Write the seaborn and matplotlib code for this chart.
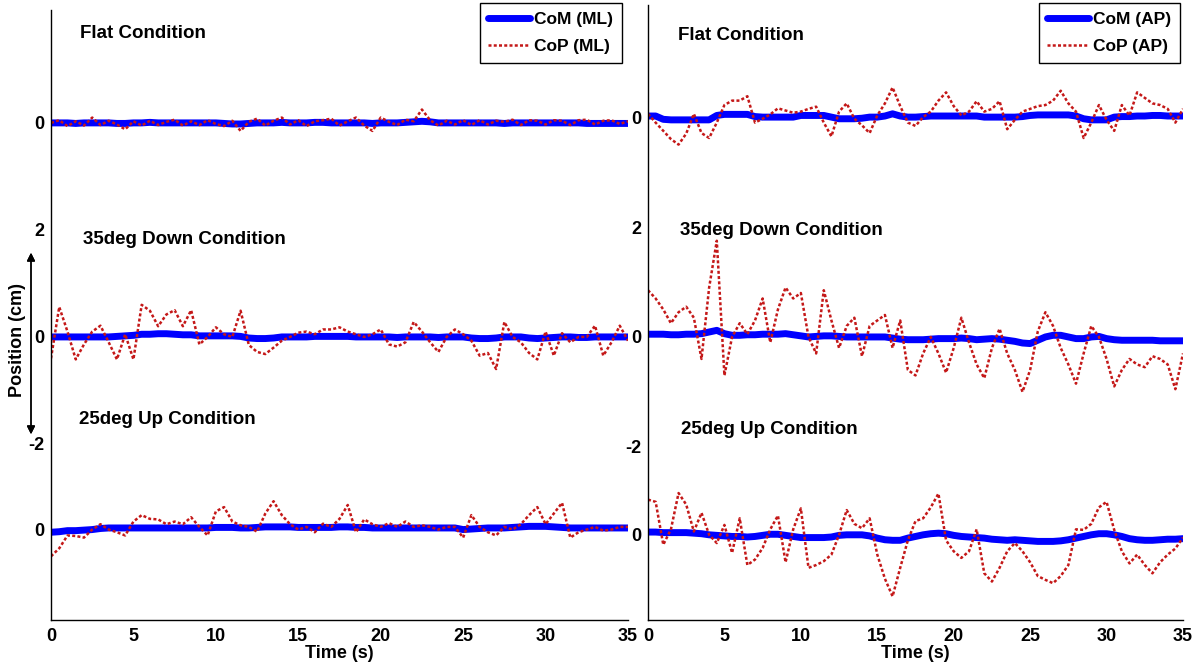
# CoM / CoP traces for three walking conditions, ML (left) and AP (right)

import numpy as np
import seaborn as sns
import matplotlib.pyplot as plt
from matplotlib.lines import Line2D

# time base, one sample every 0.5 s
time = np.arange(0, 35.5, 0.5)

# ---- ML direction (left panel) ----
com_ml_flat = [0.0, 0.0, 0.0, -0.01, 0.0, 0.0, 0.0, 0.0, -0.01, -0.01,
               0.0, 0.0, 0.01, 0.0, 0.0, 0.0, 0.0, 0.0, 0.0, 0.0,
               0.0, -0.01, -0.02, -0.02, -0.01, 0.0, 0.0, 0.0, 0.01, 0.0,
               0.0, 0.0, 0.01, 0.01, 0.0, 0.0, 0.0, 0.0, 0.0, -0.01,
               0.0, 0.0, 0.0, 0.01, 0.02, 0.03, 0.02, 0.0, 0.0, 0.0,
               0.0, 0.0, 0.0, 0.0, 0.0, -0.01, 0.0, 0.0, 0.0, 0.0,
               0.0, 0.0, 0.0, 0.0, 0.0, -0.01, -0.01, -0.01, -0.01, -0.01,
               -0.01]
cop_ml_flat = [0.0, 0.05, -0.06, 0.03, -0.05, 0.1, -0.04, 0.04, -0.03, -0.12,
               0.03, -0.05, 0.04, -0.04, 0.02, 0.06, -0.05, 0.03, -0.04, 0.05,
               -0.02, -0.06, 0.04, -0.15, 0.02, 0.08, -0.05, 0.04, 0.1, -0.03,
               0.05, -0.06, 0.03, 0.05, 0.08, -0.05, 0.03, 0.1, -0.05, -0.15,
               0.1, 0.02, -0.04, 0.06, 0.03, 0.25, 0.05, -0.05, 0.04, -0.03,
               0.05, -0.04, 0.05, -0.03, 0.04, 0.02, 0.06, -0.04, 0.05, 0.04,
               -0.03, 0.05, 0.04, -0.04, 0.05, 0.06, -0.03, 0.04, 0.05, -0.02,
               0.03]
com_ml_down = [0.0, 0.0, 0.0, 0.0, 0.0, 0.0, 0.0, 0.0, 0.01, 0.02,
               0.03, 0.05, 0.05, 0.06, 0.06, 0.05, 0.04, 0.04, 0.02, 0.02,
               0.02, 0.02, 0.02, 0.01, -0.02, -0.03, -0.03, -0.02, 0.0, 0.0,
               0.0, 0.0, 0.01, 0.01, 0.01, 0.01, 0.01, 0.0, 0.0, 0.0,
               0.0, 0.0, -0.01, 0.0, 0.0, 0.0, 0.0, -0.01, 0.0, 0.0,
               0.0, -0.02, -0.03, -0.03, -0.02, 0.0, 0.0, 0.0, -0.02, -0.03,
               -0.02, -0.01, 0.0, 0.0, -0.01, -0.01, 0.0, 0.0, 0.0, 0.0,
               0.0]
cop_ml_down = [-0.4, 0.56, 0.1, -0.42, -0.14, 0.1, 0.21, -0.1, -0.42, 0.05,
               -0.42, 0.6, 0.49, 0.2, 0.42, 0.5, 0.2, 0.5, -0.14, 0.0,
               0.18, 0.05, 0.0, 0.49, -0.15, -0.28, -0.32, -0.2, -0.07, 0.0,
               0.08, 0.1, 0.05, 0.14, 0.14, 0.18, 0.1, 0.05, 0.0, 0.05,
               0.14, -0.14, -0.18, -0.1, 0.28, 0.1, -0.1, -0.28, 0.0, 0.14,
               0.05, -0.07, -0.35, -0.3, -0.6, 0.28, 0.0, -0.1, -0.3, -0.42,
               0.1, -0.35, 0.07, -0.1, 0.0, 0.0, 0.21, -0.35, -0.1, 0.21,
               -0.07]
com_ml_up = [-0.05, -0.04, -0.02, -0.02, -0.01, 0.0, 0.02, 0.03, 0.03, 0.03,
             0.03, 0.03, 0.03, 0.03, 0.03, 0.03, 0.03, 0.03, 0.03, 0.03,
             0.04, 0.04, 0.04, 0.03, 0.03, 0.04, 0.05, 0.05, 0.05, 0.05,
             0.04, 0.04, 0.04, 0.04, 0.04, 0.05, 0.05, 0.04, 0.04, 0.03,
             0.03, 0.03, 0.03, 0.03, 0.03, 0.03, 0.03, 0.03, 0.03, 0.03,
             0.0, 0.01, 0.02, 0.03, 0.03, 0.03, 0.04, 0.05, 0.06, 0.06,
             0.06, 0.05, 0.04, 0.03, 0.03, 0.03, 0.03, 0.03, 0.03, 0.03,
             0.03]
cop_ml_up = [-0.5, -0.35, -0.11, -0.12, -0.15, 0.0, 0.1, 0.0, -0.05, -0.11,
             0.15, 0.27, 0.2, 0.19, 0.1, 0.15, 0.1, 0.23, 0.05, -0.11,
             0.34, 0.42, 0.15, 0.08, 0.05, -0.04, 0.3, 0.53, 0.27, 0.1,
             0.0, 0.05, -0.05, 0.11, 0.05, 0.2, 0.46, -0.05, 0.19, 0.1,
             0.05, 0.12, 0.05, 0.15, 0.05, 0.08, 0.05, 0.0, 0.05, 0.05,
             -0.15, 0.27, 0.05, -0.05, -0.11, 0.05, 0.0, 0.1, 0.27, 0.42,
             0.1, 0.3, 0.5, -0.15, -0.05, 0.0, 0.05, -0.02, 0.0, 0.05,
             0.05]

# ---- AP direction (right panel) ----
com_ap_flat = [0.02, 0.02, -0.04, -0.05, -0.05, -0.05, -0.05, -0.05, -0.05, 0.03,
               0.05, 0.05, 0.05, 0.05, 0.01, 0.0, 0.0, 0.0, 0.0, 0.0,
               0.03, 0.03, 0.03, 0.03, 0.0, -0.03, -0.03, -0.03, -0.02, 0.0,
               0.0, 0.02, 0.06, 0.02, 0.0, 0.0, 0.01, 0.02, 0.02, 0.02,
               0.02, 0.02, 0.02, 0.02, 0.0, 0.0, 0.0, 0.0, 0.0, 0.01,
               0.03, 0.04, 0.04, 0.04, 0.04, 0.04, 0.02, -0.03, -0.05, -0.05,
               -0.05, 0.0, 0.01, 0.01, 0.02, 0.02, 0.03, 0.03, 0.02, 0.02,
               0.02]
cop_ap_flat = [0.06, -0.1, -0.25, -0.4, -0.5, -0.3, 0.06, -0.29, -0.38, -0.1,
               0.22, 0.3, 0.3, 0.38, -0.1, -0.03, 0.05, 0.16, 0.12, 0.08,
               0.1, 0.15, 0.19, -0.1, -0.35, 0.1, 0.25, -0.03, -0.15, -0.29,
               0.03, 0.25, 0.54, 0.2, -0.1, -0.16, 0.0, 0.1, 0.3, 0.45,
               0.2, 0.03, 0.1, 0.29, 0.1, 0.15, 0.29, -0.22, -0.05, 0.1,
               0.15, 0.2, 0.22, 0.3, 0.48, 0.25, 0.1, -0.38, -0.1, 0.22,
               -0.05, -0.25, 0.22, 0.03, 0.45, 0.35, 0.25, 0.22, 0.15, -0.1,
               0.15]
com_ap_down = [0.05, 0.05, 0.05, 0.04, 0.04, 0.05, 0.05, 0.06, 0.09, 0.12,
               0.06, 0.03, 0.03, 0.04, 0.04, 0.05, 0.05, 0.05, 0.06, 0.04,
               0.02, 0.0, 0.01, 0.02, 0.02, 0.01, 0.0, 0.0, 0.0, 0.0,
               0.0, 0.0, -0.02, -0.04, -0.05, -0.05, -0.05, -0.04, -0.03, -0.03,
               -0.03, -0.02, -0.03, -0.05, -0.04, -0.03, -0.04, -0.06, -0.08, -0.11,
               -0.12, -0.06, 0.0, 0.03, 0.03, 0.0, -0.03, -0.03, 0.0, 0.01,
               -0.03, -0.05, -0.06, -0.06, -0.06, -0.06, -0.06, -0.07, -0.07, -0.07,
               -0.07]
cop_ap_down = [0.85, 0.7, 0.5, 0.25, 0.45, 0.55, 0.35, -0.4, 0.9, 1.75,
               -0.7, 0.0, 0.25, 0.05, 0.3, 0.7, -0.1, 0.5, 0.9, 0.7,
               0.8, 0.0, -0.3, 0.85, 0.3, -0.2, 0.2, 0.35, -0.35, 0.2,
               0.3, 0.4, -0.2, 0.3, -0.6, -0.7, -0.3, 0.0, -0.3, -0.65,
               -0.2, 0.35, -0.1, -0.5, -0.75, -0.2, 0.15, -0.3, -0.6, -1.0,
               -0.6, 0.1, 0.45, 0.2, -0.2, -0.5, -0.85, -0.3, 0.2, 0.0,
               -0.4, -0.9, -0.6, -0.4, -0.5, -0.55, -0.35, -0.4, -0.5, -0.95,
               -0.3]
com_ap_up = [0.05, 0.05, 0.04, 0.04, 0.04, 0.04, 0.03, 0.02, 0.0, -0.01,
             -0.02, -0.03, -0.03, -0.04, -0.03, -0.01, 0.01, 0.01, -0.01, -0.03,
             -0.05, -0.05, -0.05, -0.05, -0.04, -0.01, 0.0, 0.0, 0.0, -0.02,
             -0.06, -0.09, -0.1, -0.1, -0.06, -0.03, 0.0, 0.02, 0.03, 0.02,
             -0.01, -0.03, -0.04, -0.05, -0.06, -0.08, -0.09, -0.1, -0.09, -0.1,
             -0.11, -0.12, -0.12, -0.12, -0.11, -0.09, -0.06, -0.03, 0.0, 0.02,
             0.02, 0.0, -0.03, -0.07, -0.09, -0.1, -0.1, -0.09, -0.08, -0.08,
             -0.07]
cop_ap_up = [0.64, 0.6, -0.18, 0.1, 0.76, 0.55, 0.06, 0.4, 0.0, -0.15,
             0.18, -0.33, 0.3, -0.55, -0.45, -0.24, 0.1, 0.35, -0.5, 0.1,
             0.48, -0.6, -0.55, -0.48, -0.36, 0.0, 0.45, 0.2, 0.12, 0.3,
             -0.36, -0.8, -1.12, -0.6, -0.1, 0.25, 0.3, 0.5, 0.75, -0.1,
             -0.3, -0.42, -0.3, 0.1, -0.7, -0.85, -0.6, -0.3, -0.15, -0.3,
             -0.5, -0.75, -0.82, -0.88, -0.75, -0.55, 0.1, 0.09, 0.2, 0.5,
             0.6, 0.09, -0.3, -0.52, -0.36, -0.55, -0.7, -0.5, -0.36, -0.25,
             -0.05]

conditions = ['Flat Condition', '35deg Down Condition', '25deg Up Condition']
offsets = [4.0, 0.0, -3.6]
ytick_pos = [4.0, 2.0, 0.0, -2.0, -3.6]
ytick_lab = ['0', '2', '0', '-2', '0']
xticks = [0, 5, 10, 15, 20, 25, 30, 35]

sns.set_style('white')
plt.rcParams['font.family'] = ['Liberation Sans', 'DejaVu Sans']
plt.rcParams['font.weight'] = 'bold'
for key in ['text.color', 'axes.labelcolor', 'xtick.color', 'ytick.color']:
    plt.rcParams[key] = 'black'

fig = plt.figure(figsize=(11.97, 6.65), dpi=100)
ax_l = fig.add_axes([51 / 1197, 45 / 665, 577 / 1197, 610 / 665])
ax_r = fig.add_axes([648 / 1197, 45 / 665, 535 / 1197, 615 / 665])

panels = [
    (ax_l, [com_ml_flat, com_ml_down, com_ml_up], [cop_ml_flat, cop_ml_down, cop_ml_up],
     'ML', (-5.29, 6.11), [(0.05, 0.962), (0.055, 0.623), (0.049, 0.328)], 622),
    (ax_r, [com_ap_flat, com_ap_down, com_ap_up], [cop_ap_flat, cop_ap_down, cop_ap_up],
     'AP', (-5.15, 6.04), [(0.056, 0.951), (0.06, 0.634), (0.062, 0.309)], 1180),
]

com_color = '#0000ff'
cop_color = '#c41818'
cop_dash = (0, (1.2, 0.9))

for ax, coms, cops, tag, ylim, txt_pos, leg_x in panels:
    for com, cop, off, name, (tx, ty) in zip(coms, cops, offsets, conditions, txt_pos):
        sns.lineplot(x=time, y=np.array(com) + off, ax=ax, color=com_color, linewidth=5)
        sns.lineplot(x=time, y=np.array(cop) + off, ax=ax, color=cop_color,
                     linewidth=1.8, linestyle=cop_dash)
        ax.text(tx, ty, name, transform=ax.transAxes, fontsize=13.5, fontweight='bold',
                va='center', ha='left')

    ax.set_xlim(0, 35)
    ax.set_ylim(*ylim)
    ax.set_xticks(xticks)
    ax.set_xticklabels([str(v) for v in xticks], fontsize=13, fontweight='bold')
    ax.set_yticks(ytick_pos)
    ax.set_yticklabels(ytick_lab, fontsize=13, fontweight='bold')
    ax.tick_params(axis='x', direction='in', length=5, width=1, pad=6)
    ax.tick_params(axis='y', direction='out', length=3, width=1, pad=2)
    ax.set_xlabel('Time (s)', fontsize=13, fontweight='bold', labelpad=0)
    ax.set_ylabel('')
    for side in ['top', 'right']:
        ax.spines[side].set_visible(False)
    for side in ['left', 'bottom']:
        ax.spines[side].set_color('black')
        ax.spines[side].set_linewidth(1)

    handles = [Line2D([], [], color=com_color, linewidth=5),
               Line2D([], [], color=cop_color, linewidth=1.8, linestyle=cop_dash)]
    leg = ax.legend(handles, [f'CoM ({tag})', f'CoP ({tag})'], loc='upper right',
                    bbox_to_anchor=(leg_x / 1197, 1 - 3 / 665),
                    bbox_transform=fig.transFigure, borderaxespad=0, fancybox=False,
                    framealpha=1, edgecolor='black', handlelength=2.4,
                    handletextpad=0.25, borderpad=0.5, labelspacing=0.7,
                    prop={'weight': 'bold', 'size': 12.5})
    leg.get_frame().set_linewidth(1)

# y label with double arrow
fig.text(18 / 1197, 1 - 340 / 665, 'Position (cm)', rotation=90, fontsize=13,
         fontweight='bold', va='center', ha='center')
fig.add_artist(plt.annotate('', xy=(31 / 1197, 1 - 437 / 665), xytext=(31 / 1197, 1 - 250 / 665),
                            xycoords='figure fraction', textcoords='figure fraction',
                            arrowprops=dict(arrowstyle='<|-|>', color='black', lw=1,
                                            mutation_scale=12)))

fig.savefig('out.png', dpi=100, facecolor='white')
